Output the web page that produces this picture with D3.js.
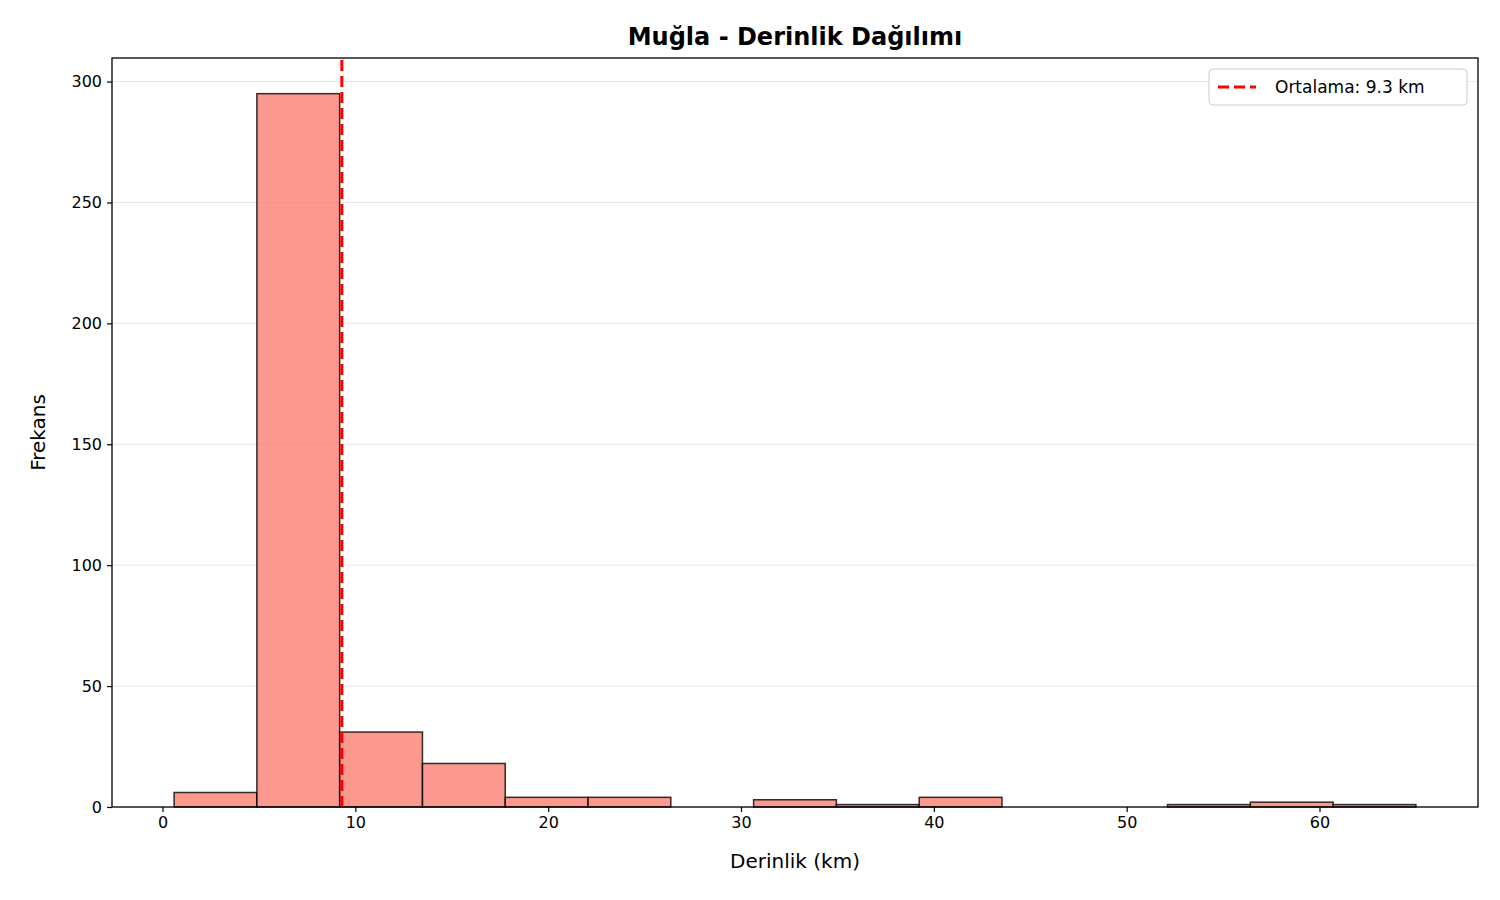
<!DOCTYPE html>
<html><head><meta charset="utf-8">
<script src="https://cdn.jsdelivr.net/npm/d3@7/dist/d3.min.js"></script>
<style>body{margin:0;background:#fff;font-family:"DejaVu Sans",sans-serif}</style>
</head><body><svg id="c" width="1500" height="900"></svg>
<script>
const binStart = 0.6, binEnd = 65.0;
const counts = [6, 295, 31, 18, 4, 4, 0, 3, 1, 4, 0, 0, 1, 2, 1];
const meanVal = 9.3;
const xTicks = [0,10,20,30,40,50,60];
const yTicks = [0,50,100,150,200,250,300];

const svg = d3.select("#c");
const L=112,R=1478,T=58,B=807;
const w=(binEnd-binStart)/counts.length;
const pad=(binEnd-binStart)*0.05;
const x=d3.scaleLinear().domain([binStart-pad,binEnd+pad]).range([L,R]);
const ymax=d3.max(counts)*1.05;
const y=d3.scaleLinear().domain([0,ymax]).range([B,T]);

svg.append("g").selectAll("line").data(yTicks).join("line")
 .attr("x1",L).attr("x2",R).attr("y1",d=>y(d)).attr("y2",d=>y(d))
 .attr("stroke","#e6e6e6").attr("stroke-width",1);

svg.append("g").selectAll("rect").data(counts).join("rect")
 .attr("x",(d,i)=>x(binStart+i*w)).attr("width",(d,i)=>x(binStart+(i+1)*w)-x(binStart+i*w))
 .attr("y",d=>y(d)).attr("height",d=>B-y(d))
 .attr("fill","rgba(250,128,114,0.8)").attr("stroke","rgba(0,0,0,0.8)").attr("stroke-width",1.5);

svg.append("line").attr("x1",x(meanVal)).attr("x2",x(meanVal)).attr("y1",B).attr("y2",T)
 .attr("stroke","red").attr("stroke-width",3).attr("stroke-dasharray","11,5");

const xa=svg.append("g").attr("transform",`translate(0,${B})`).call(d3.axisBottom(x).tickValues(xTicks).tickSize(5).tickPadding(5));
const ya=svg.append("g").attr("transform",`translate(${L},0)`).call(d3.axisLeft(y).tickValues(yTicks).tickSize(5).tickPadding(5));
[xa,ya].forEach(a=>{a.select(".domain").remove();a.selectAll("text").attr("font-size",16).attr("font-family","DejaVu Sans").attr("fill","#000");a.selectAll("line").attr("stroke","#000").attr("stroke-width",1.2);});

svg.append("rect").attr("x",L).attr("y",T).attr("width",R-L).attr("height",B-T).attr("fill","none").attr("stroke","#000").attr("stroke-width",1.3);

svg.append("text").attr("x",(L+R)/2).attr("y",45).attr("text-anchor","middle").attr("font-size",24).attr("font-weight","bold").text("Muğla - Derinlik Dağılımı");
svg.append("text").attr("x",(L+R)/2).attr("y",868).attr("text-anchor","middle").attr("font-size",20).text("Derinlik (km)");
svg.append("text").attr("transform",`translate(45,${(T+B)/2}) rotate(-90)`).attr("text-anchor","middle").attr("font-size",20).text("Frekans");

const lg=svg.append("g");
lg.append("rect").attr("x",1209).attr("y",69).attr("width",258).attr("height",36).attr("rx",4).attr("fill","#fff").attr("stroke","#ccc");
lg.append("line").attr("x1",1218).attr("x2",1256).attr("y1",87).attr("y2",87).attr("stroke","red").attr("stroke-width",3).attr("stroke-dasharray","11,5");
lg.append("text").attr("x",1275).attr("y",93).attr("font-size",17).text("Ortalama: "+meanVal.toFixed(1)+" km");
</script></body></html>
